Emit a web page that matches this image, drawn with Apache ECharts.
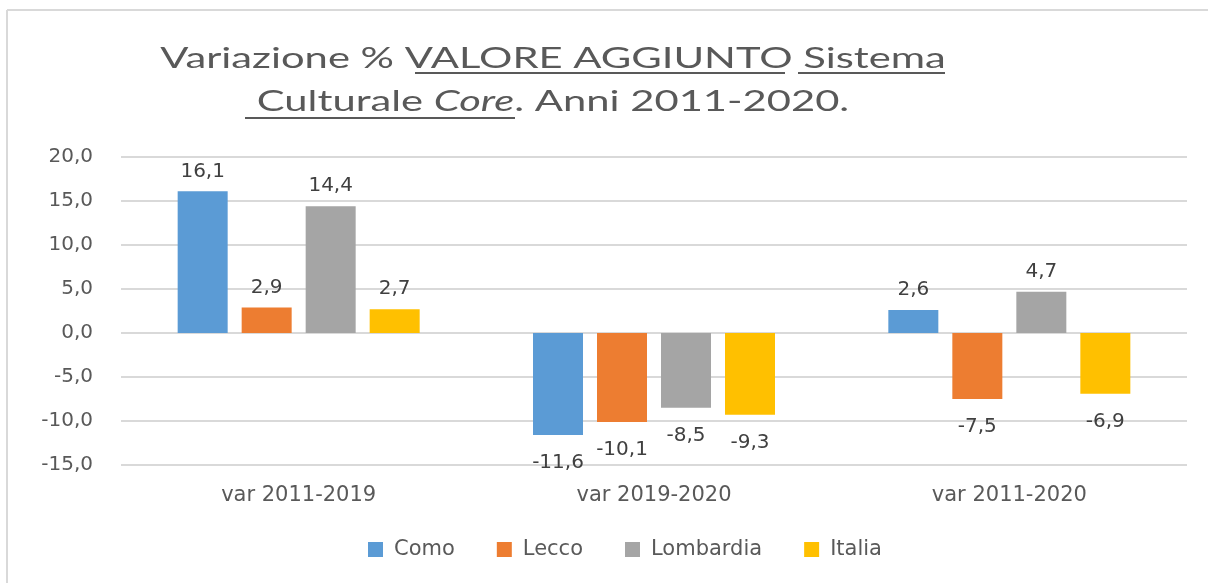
<!DOCTYPE html>
<html>
<head>
<meta charset="utf-8">
<script src="https://cdn.jsdelivr.net/npm/echarts@6/dist/echarts.min.js"></script>
<style>
html, body { margin: 0; padding: 0; background: #fff; }
#chart { width: 1208px; height: 583px; }
</style>
</head>
<body>
<div id="chart"></div>
<script>
var categories = ['var 2011-2019', 'var 2019-2020', 'var 2011-2020'];
var como = [16.1, -11.6, 2.6];
var lecco = [2.9, -10.1, -7.5];
var lombardia = [14.4, -8.5, 4.7];
var italia = [2.7, -9.3, -6.9];

var fmt = function (v) { return v.toFixed(1).replace('.', ','); };
var labelFont = 'DejaVu Sans';
var titleFont = 'Lato';

function bar(name, data, color) {
	return {
		name: name,
		type: 'bar',
		data: data.map(function (v) {
			// negative values get their label under the bar
			return v < 0 ? { value: v, label: { position: 'bottom', distance: 18 } } : v;
		}),
		barWidth: 50,
		barGap: '28%',
		itemStyle: { color: color },
		label: {
			show: true,
			position: 'top',
			distance: 10,
			fontFamily: labelFont,
			fontSize: 20,
			color: '#404040',
			formatter: function (p) { return fmt(p.value); }
		}
	};
}

var series = [
	bar('Como', como, '#5B9BD5'),
	bar('Lecco', lecco, '#ED7D31'),
	bar('Lombardia', lombardia, '#A5A5A5'),
	bar('Italia', italia, '#FFC000')
];

var titleStyle = { fontFamily: titleFont, fontSize: 28, fill: '#595959', lineHeight: 43 };

var chart = echarts.init(document.getElementById('chart'));
chart.setOption({
	animation: false,
	graphic: [
		// outer frame
		{ type: 'line', shape: { x1: 7, y1: 10, x2: 1208, y2: 10 }, style: { stroke: '#d9d9d9', lineWidth: 2 } },
		{ type: 'line', shape: { x1: 7, y1: 10, x2: 7, y2: 583 }, style: { stroke: '#d9d9d9', lineWidth: 2 } },
		// title, stretched sideways like the original
		{
			type: 'text',
			x: 553,
			y: 37,
			scaleX: 1.49,
			style: {
				text: '{n|Variazione % VALORE AGGIUNTO Sistema}\n{n|Culturale }{i|Core}{n|. Anni 2011-2020.}',
				align: 'center',
				verticalAlign: 'top',
				fill: '#595959',
				rich: {
					n: titleStyle,
					i: Object.assign({}, titleStyle, { fontStyle: 'italic' })
				}
			}
		},
		// title underlines
		{ type: 'line', shape: { x1: 415, y1: 73, x2: 785, y2: 73 }, style: { stroke: '#595959', lineWidth: 2 } },
		{ type: 'line', shape: { x1: 798, y1: 73, x2: 945, y2: 73 }, style: { stroke: '#595959', lineWidth: 2 } },
		{ type: 'line', shape: { x1: 245, y1: 118, x2: 515, y2: 118 }, style: { stroke: '#595959', lineWidth: 2 } }
	],
	legend: {
		bottom: 18,
		left: 363,
		icon: 'rect',
		itemWidth: 15,
		itemHeight: 15,
		itemGap: 42,
		textStyle: { fontFamily: labelFont, fontSize: 21, color: '#595959', padding: [0, 0, 0, 6] },
		data: ['Como', 'Lecco', 'Lombardia', 'Italia']
	},
	grid: { left: 121, right: 21, top: 157, bottom: 118 },
	xAxis: {
		type: 'category',
		data: categories,
		axisLine: { show: false },
		axisTick: { show: false },
		axisLabel: { fontFamily: labelFont, fontSize: 21, color: '#595959', margin: 20 }
	},
	yAxis: {
		type: 'value',
		min: -15,
		max: 20,
		interval: 5,
		axisLine: { show: false },
		axisTick: { show: false },
		splitLine: { lineStyle: { color: '#d9d9d9', width: 2 } },
		axisLabel: { fontFamily: labelFont, fontSize: 20, color: '#595959', margin: 28, formatter: fmt }
	},
	series: series
});
</script>
</body>
</html>
